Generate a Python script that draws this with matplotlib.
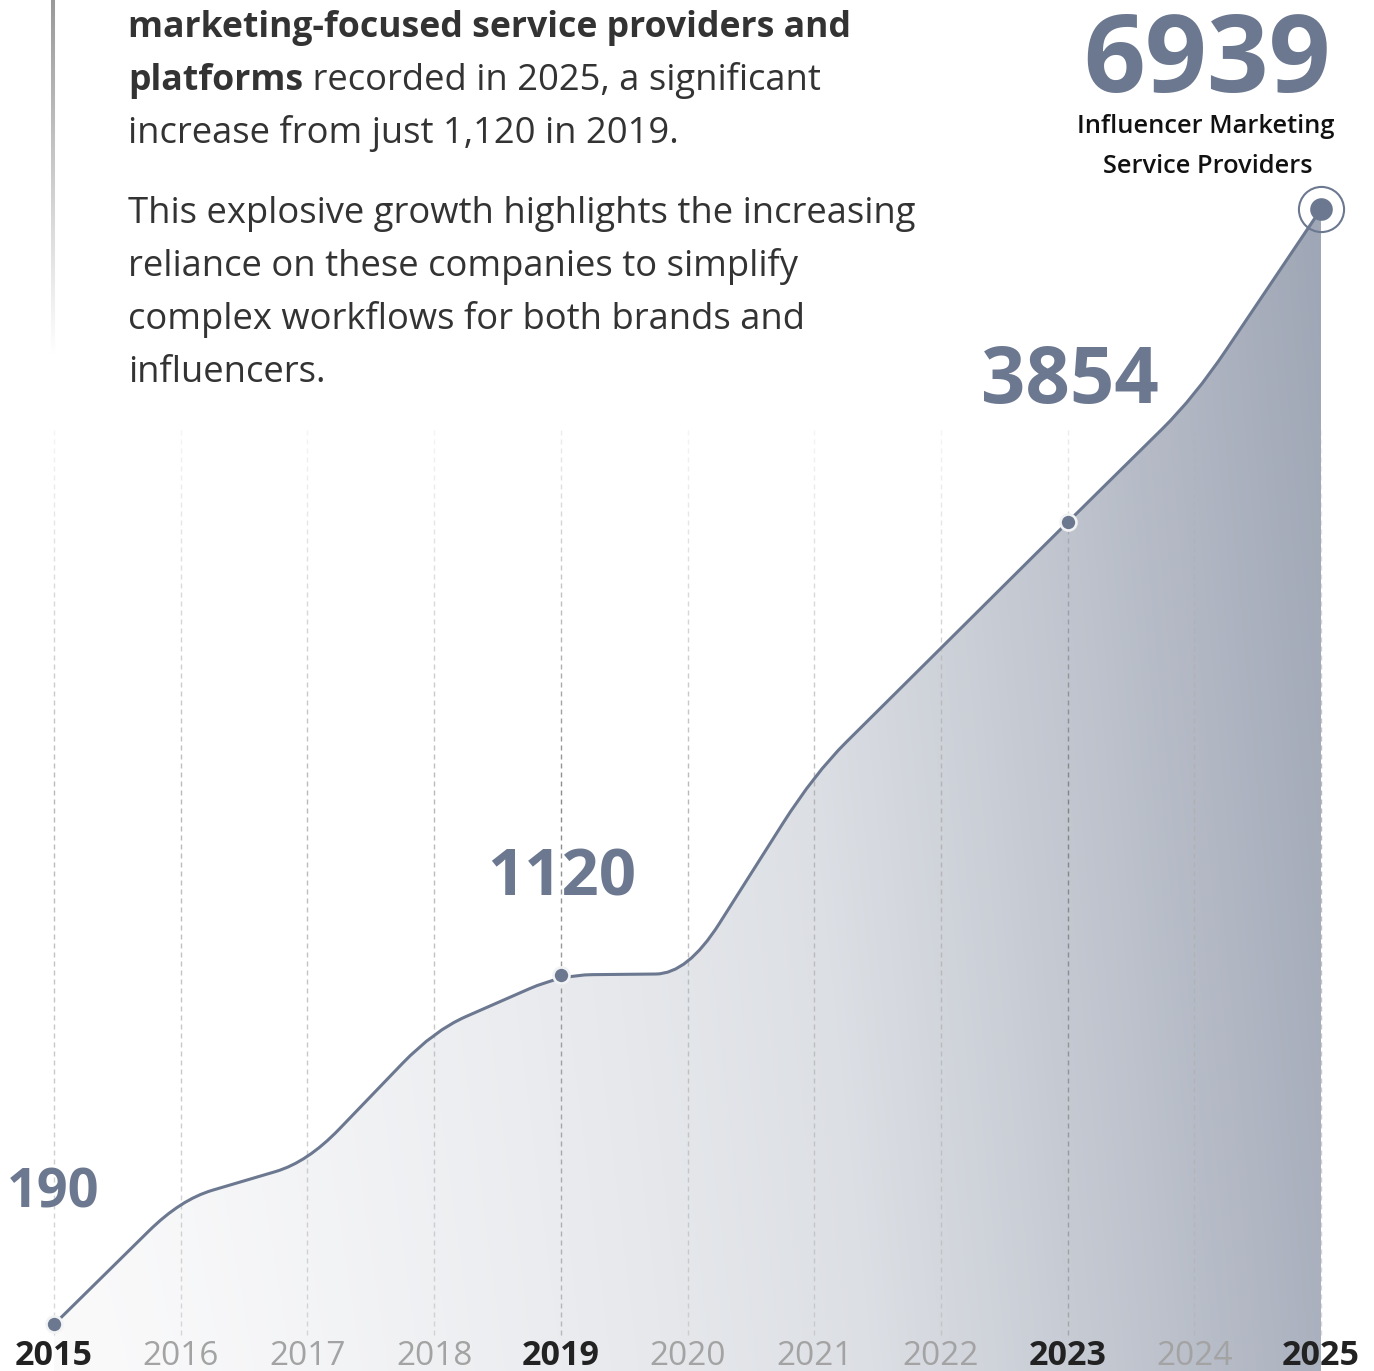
import numpy as np
import matplotlib
matplotlib.use('Agg')
import matplotlib.pyplot as plt
from matplotlib.path import Path
from matplotlib.patches import PathPatch
from matplotlib.collections import LineCollection
from matplotlib.colors import LinearSegmentedColormap

plt.rcParams['font.family'] = ['Open Sans', 'DejaVu Sans']

# ---- data ----
years = [2015, 2016, 2017, 2018, 2019, 2020, 2021, 2022, 2023, 2024, 2025]
providers = [190, 420, 510, 910, 1120, 1125, 2100, 2900, 3854, 4960, 6939]
labelled = [2015, 2019, 2023]
bold_years = [2015, 2019, 2023, 2025]

para1 = ["marketing-focused service providers and",
         "platforms", " recorded in 2025, a significant",
         "increase from just 1,120 in 2019."]
para2 = ["This explosive growth highlights the increasing",
         "reliance on these companies to simplify",
         "complex workflows for both brands and",
         "influencers."]

LINE = '#6b7890'
TEXT = '#333333'
W, H = 1374, 1371
P = 0.42          # power used for the vertical scale
F = 0.25          # corner rounding of the line


def fwd(v):
    return np.power(np.clip(v, 0, None), P)


def inv(t):
    return np.power(np.clip(t, 0, None), 1.0 / P)


def fx(px):
    return px / W


def fy(py):
    return 1 - py / H


fig = plt.figure(figsize=(W / 100, H / 100), dpi=100)
ax = fig.add_axes([0, 0, 1, 1])
ax.set_yscale('function', functions=(fwd, inv))
ax.axis('off')

# ---- rounded polyline path ----
x = np.array(years, float)
t = fwd(np.array(providers, float))
verts = [(x[0], t[0])]
codes = [Path.MOVETO]
for i in range(1, len(x) - 1):
    a = (x[i] + F * (x[i - 1] - x[i]), t[i] + F * (t[i - 1] - t[i]))
    b = (x[i] + F * (x[i + 1] - x[i]), t[i] + F * (t[i + 1] - t[i]))
    verts += [a, (x[i], t[i]), b]
    codes += [Path.LINETO, Path.CURVE3, Path.CURVE3]
verts.append((x[-1], t[-1]))
codes.append(Path.LINETO)
verts = [(vx, float(inv(vt))) for vx, vt in verts]

ylo, yhi = 130, 9600
line_path = Path(verts, codes)
fill_path = Path(verts + [(x[-1], ylo), (x[0], ylo), (x[0], ylo)],
                 codes + [Path.LINETO, Path.LINETO, Path.CLOSEPOLY])

fill_patch = PathPatch(fill_path, facecolor='none', edgecolor='none')
ax.add_patch(fill_patch)

# gradient fill
gx = np.linspace(0, 1, 400)
gy = np.linspace(0, 1, 400)
GX, GY = np.meshgrid(gx, gy)
px = GX * W
py = (1 - GY) * H
hx = np.clip((px - 54) / (1321 - 54), 0, 1)
vy = np.clip((H - py) / (H - 208), 0, 1)
grad = np.clip(0.9 * hx ** 1.35 + 0.1 * vy, 0, 1)
cmap = LinearSegmentedColormap.from_list('fill', ['#fafafb', '#dcdfe4', '#9fa6b5'])
im = ax.imshow(grad, extent=[0, 1, 0, 1], transform=ax.transAxes, origin='lower',
               cmap=cmap, vmin=0, vmax=1, aspect='auto', zorder=1,
               interpolation='bilinear')
im.set_clip_path(fill_patch)

# dashed vertical grid lines, fading at the top
segs, cols = [], []
for yr in years:
    base = np.array(matplotlib.colors.to_rgb('#7c7c7c' if yr in (2019, 2023) else '#b0b0b0'))
    for y0 in np.arange(430, 1335, 9):
        if y0 < 800:
            al = 0.15 + 0.85 * (y0 - 430) / 370
        else:
            al = 1 - 0.5 * (y0 - 800) / 535
        segs.append([(yr, fy(y0)), (yr, fy(min(y0 + 5, 1335)))])
        cols.append((*base, max(al, 0) * 0.9))
ax.add_collection(LineCollection(segs, colors=cols, linewidths=1.0,
                                 transform=ax.get_xaxis_transform(), zorder=2))

# the line
ax.add_patch(PathPatch(line_path, fill=False, edgecolor=LINE, lw=2.2,
                       capstyle='round', joinstyle='round', zorder=4))

# markers
mx = [yr for yr in years if yr in labelled]
my = [providers[years.index(yr)] for yr in mx]
ax.plot(mx, my, 'o', ms=11.5, mfc=LINE, mec='#f2f3f5', mew=1.9, zorder=5, clip_on=False)
ax.plot([years[-1]], [providers[-1]], 'o', ms=16.3, mfc=LINE, mec='none', zorder=5, clip_on=False)
ax.plot([years[-1]], [providers[-1]], 'o', ms=32.5, mfc='none', mec=LINE, mew=1.5, zorder=5, clip_on=False)

ax.set_xlim(2015 - 54 / 126.7, 2025 + 53 / 126.7)
ax.set_ylim(ylo, yhi)

# year labels
for yr in years:
    hl = yr in bold_years
    ax.text(yr, fy(1365), str(yr), transform=ax.get_xaxis_transform(),
            ha='center', va='baseline', fontsize=24.5 if hl else 24,
            fontweight='bold' if hl else 'normal',
            color='#222222' if hl else '#a3a3a3', zorder=6)

# big numbers
big = [(f'{providers[0]}', 53, 1207, 39), (f'{providers[4]}', 562, 895, 47),
       (f'{providers[8]}', 1070, 403, 56), (f'{providers[-1]}', 1207, 92, 78)]
for s, cx, by, fs in big:
    fig.text(fx(cx), fy(by), s, ha='center', va='baseline', fontsize=fs,
             fontweight='bold', color=LINE, zorder=6)

fig.text(fx(1206), fy(133), 'Influencer Marketing', ha='center', va='baseline',
         fontsize=18.3, fontweight='semibold', color='#111111')
fig.text(fx(1208), fy(173), 'Service Providers', ha='center', va='baseline',
         fontsize=18.3, fontweight='semibold', color='#111111')

# paragraph text
fs_bold, fs_body = 25.7, 26.2
fig.text(fx(128), fy(37), para1[0], ha='left', va='baseline', fontsize=fs_bold,
         fontweight='bold', color=TEXT)
t_bold = fig.text(fx(128), fy(90), para1[1], ha='left', va='baseline', fontsize=fs_bold,
                  fontweight='bold', color=TEXT)
ax.annotate(para1[2], xy=(1, 0), xycoords=t_bold, ha='left', va='bottom',
            fontsize=fs_body, color=TEXT)
fig.text(fx(128), fy(143), para1[3], ha='left', va='baseline', fontsize=fs_body, color=TEXT)
for i, s in enumerate(para2):
    fig.text(fx(128), fy(223 + 53 * i), s, ha='left', va='baseline', fontsize=fs_body,
             color=TEXT)

# left quote bar fading downwards
bar_y = np.arange(0, 356, 2)
bar_segs = [[(fx(53), fy(y0)), (fx(53), fy(y0 + 2))] for y0 in bar_y]
bar_cols = [(0.6 + 0.4 * y0 / 355,) * 3 for y0 in bar_y]
ax.add_collection(LineCollection(bar_segs, colors=bar_cols, linewidths=2.9,
                                 transform=ax.transAxes, capstyle='butt', zorder=2))

fig.savefig('out.png', dpi=100)
